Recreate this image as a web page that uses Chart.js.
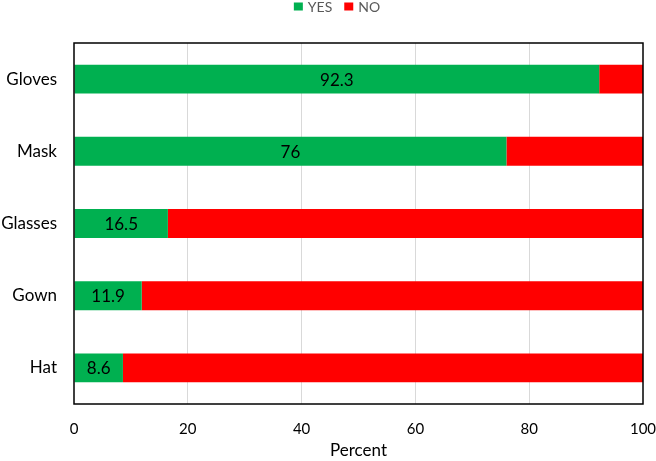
<!DOCTYPE html>
<html>
<head>
<meta charset="utf-8">
<script src="https://cdn.jsdelivr.net/npm/chart.js@4.4.1/dist/chart.umd.min.js"></script>
<style>
  html, body { margin: 0; padding: 0; background: #fff; }
  #wrap { width: 656px; height: 461px; position: relative; }
</style>
</head>
<body>
<div id="wrap"><canvas id="chart"></canvas></div>
<script>
const categories = ['Gloves', 'Mask', 'Glasses', 'Gown', 'Hat'];
const yesValues = [92.3, 76, 16.5, 11.9, 8.6];
const noValues = [7.7, 24, 83.5, 88.1, 91.4];
const xTicks = [0, 20, 40, 60, 80, 100];

const FONT = 'Lato, "Open Sans", sans-serif';

// black frame round the plot area
const frame = {
  id: 'frame',
  afterDatasetsDraw(chart) {
    const a = chart.chartArea;
    const ctx = chart.ctx;
    ctx.save();
    ctx.strokeStyle = '#000';
    ctx.lineWidth = 1.5;
    ctx.strokeRect(a.left, a.top, a.right - a.left, a.bottom - a.top);
    ctx.restore();
  }
};

// value labels in the middle of the YES bars
const barLabels = {
  id: 'barLabels',
  afterDatasetsDraw(chart) {
    const ctx = chart.ctx;
    const meta = chart.getDatasetMeta(0);
    ctx.save();
    ctx.font = '17px ' + FONT;
    ctx.fillStyle = '#000';
    ctx.textAlign = 'center';
    ctx.textBaseline = 'middle';
    meta.data.forEach((bar, i) => {
      const x = (bar.base + bar.x) / 2;
      ctx.fillText(String(yesValues[i]), x, bar.y + 1);
    });
    ctx.restore();
  }
};

// legend on top, small squares like the original
const topLegend = {
  id: 'topLegend',
  afterDraw(chart) {
    const ctx = chart.ctx;
    ctx.save();
    ctx.font = '14px ' + FONT;
    ctx.textBaseline = 'middle';
    const items = chart.data.datasets.map(d => ({ text: d.label, color: d.backgroundColor }));
    const box = 9, gap = 5, between = 12;
    let total = 0;
    items.forEach((it, i) => {
      total += box + gap + ctx.measureText(it.text).width + (i < items.length - 1 ? between : 0);
    });
    let x = chart.width / 2 - total / 2 + 9;
    const y = 7;
    items.forEach(it => {
      ctx.fillStyle = it.color;
      ctx.fillRect(x, y - 4.5, box, box - 1);
      x += box + gap;
      ctx.fillStyle = '#595959';
      ctx.fillText(it.text, x, y);
      x += ctx.measureText(it.text).width + between;
    });
    ctx.restore();
  }
};

const ctx = document.getElementById('chart').getContext('2d');
new Chart(ctx, {
  type: 'bar',
  data: {
    labels: categories,
    datasets: [
      {
        label: 'YES',
        data: yesValues,
        backgroundColor: '#00B050',
        barPercentage: 0.8,
        categoryPercentage: 0.5,
      },
      {
        label: 'NO',
        data: noValues,
        backgroundColor: '#FF0000',
        barPercentage: 0.8,
        categoryPercentage: 0.5,
      },
    ],
  },
  options: {
    indexAxis: 'y',
    responsive: true,
    maintainAspectRatio: false,
    animation: false,
    layout: {
      padding: { top: 43, right: 13, left: 0, bottom: 0 },
    },
    plugins: {
      legend: { display: false },
      tooltip: { enabled: false },
    },
    scales: {
      x: {
        stacked: true,
        min: 0,
        max: 100,
        afterBuildTicks: (axis) => {
          axis.ticks = xTicks.map(v => ({ value: v }));
        },
        afterFit: (axis) => {
          axis.height = 57;
          axis.paddingRight = 0;
          axis.paddingLeft = 0;
        },
        grid: {
          color: (c) => (c.tick && (c.tick.value === 0 || c.tick.value === 100)) ? 'rgba(0,0,0,0)' : '#d9d9d9',
          drawTicks: false,
        },
        border: { display: false },
        ticks: {
          padding: 16,
          color: '#000',
          font: { family: FONT, size: 15 },
        },
        title: {
          display: true,
          text: 'Percent',
          color: '#000',
          padding: { top: 0, bottom: 0 },
          font: { family: FONT, size: 17 },
        },
      },
      y: {
        stacked: true,
        afterFit: (axis) => { axis.width = 74; },
        grid: { display: false, drawTicks: false },
        border: { display: false },
        ticks: {
          padding: 17,
          color: '#000',
          font: { family: FONT, size: 17 },
        },
      },
    },
  },
  plugins: [frame, barLabels, topLegend],
});
</script>
</body>
</html>
